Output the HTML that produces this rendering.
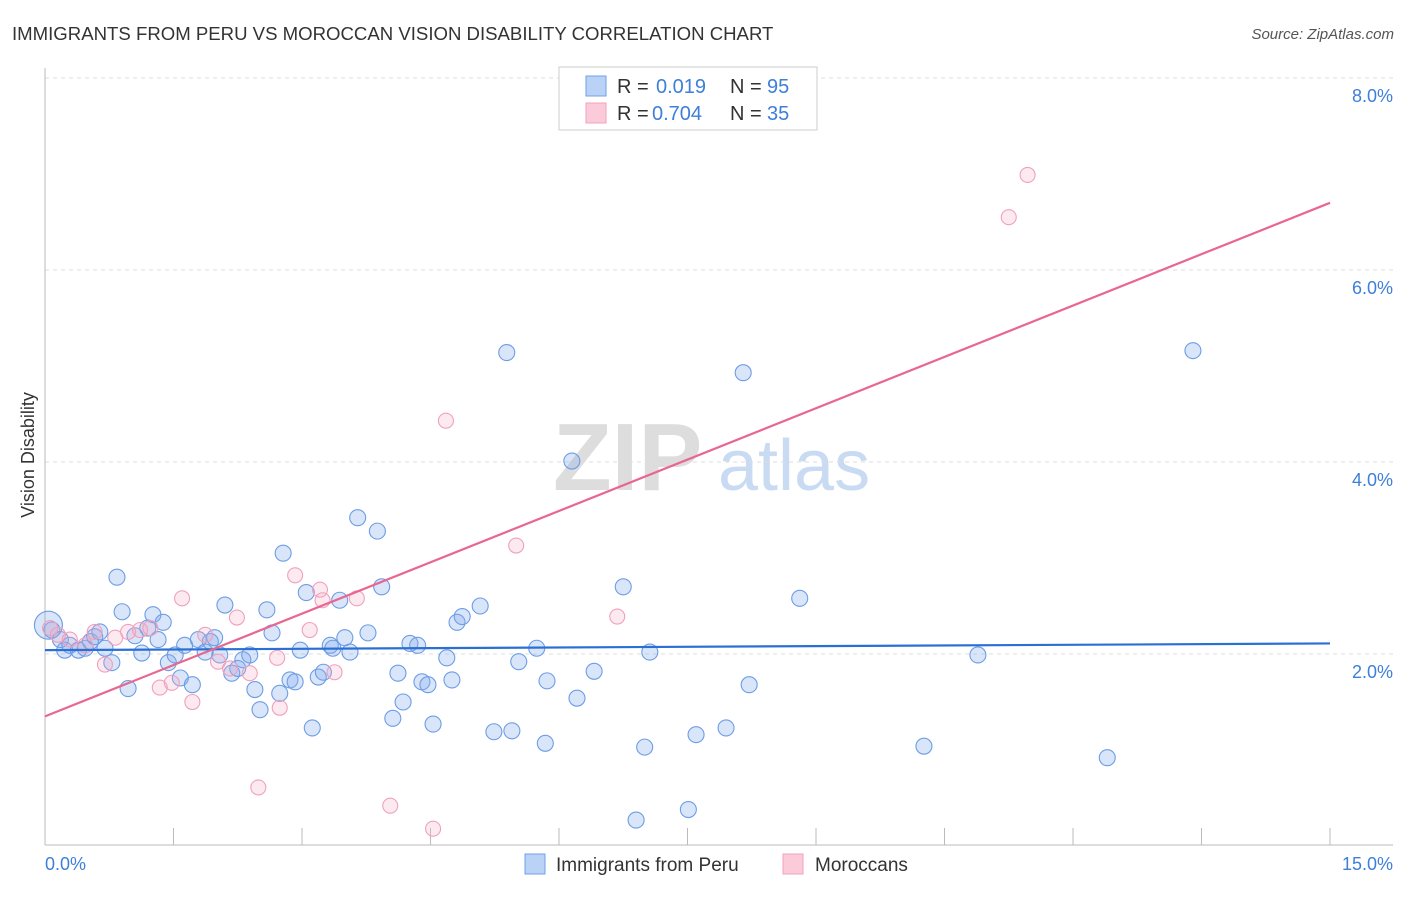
<!DOCTYPE html>
<html><head><meta charset="utf-8"><style>
body{margin:0;background:#fff;font-family:"Liberation Sans",sans-serif;}
svg text{font-family:"Liberation Sans",sans-serif;}
</style></head><body>
<svg id="chart" width="1406" height="892" xmlns="http://www.w3.org/2000/svg">
<text x="12" y="40" font-size="18.6" fill="#333">IMMIGRANTS FROM PERU VS MOROCCAN VISION DISABILITY CORRELATION CHART</text>
<text x="1394" y="39" font-size="15" fill="#555" font-style="italic" text-anchor="end">Source: ZipAtlas.com</text>
<g>
<text x="553" y="490" font-size="96" fill="#ddd" font-family="Liberation Serif" font-weight="bold">ZIP</text>
<text x="718" y="490" font-size="72" fill="#c9dbf3">atlas</text>
</g>
<g id="grid"></g>
<g id="axes"></g>
<g id="points"></g>
<g id="lines"></g>
<text transform="translate(34,455) rotate(-90)" font-size="18" fill="#333" text-anchor="middle">Vision Disability</text>
<g>
<rect x="559" y="67" width="258" height="63" fill="#fff" stroke="#ccc"/>
<rect x="586" y="76" width="20" height="20" fill="#b9d2f5" stroke="#6fa0e8"/>
<text x="617" y="93" font-size="20" fill="#333">R =</text>
<text x="656" y="93" font-size="20" fill="#3d7fd9">0.019</text>
<text x="730" y="93" font-size="20" fill="#333">N =</text>
<text x="767" y="93" font-size="20" fill="#3d7fd9">95</text>
<rect x="586" y="103" width="20" height="20" fill="#fbcbd9" stroke="#f0a0bd"/>
<text x="617" y="120" font-size="20" fill="#333">R =</text>
<text x="652" y="120" font-size="20" fill="#3d7fd9">0.704</text>
<text x="730" y="120" font-size="20" fill="#333">N =</text>
<text x="767" y="120" font-size="20" fill="#3d7fd9">35</text>
</g>
<g>
<rect x="525" y="854" width="20" height="20" fill="#b9d2f5" stroke="#6fa0e8"/>
<text x="556" y="871" font-size="19" fill="#333">Immigrants from Peru</text>
<rect x="783" y="854" width="20" height="20" fill="#fbcbd9" stroke="#f0a0bd"/>
<text x="815" y="871" font-size="19" fill="#333">Moroccans</text>
</g>
</svg>
<script>
const blueX=[0.04,0.08,0.18,0.23,0.29,0.39,0.47,0.53,0.58,0.64,0.70,0.78,0.84,0.90,0.97,1.05,1.13,1.20,1.26,1.32,1.38,1.44,1.52,1.58,1.63,1.72,1.79,1.87,1.93,1.98,2.04,2.10,2.18,2.25,2.31,2.39,2.45,2.51,2.59,2.65,2.74,2.78,2.86,2.92,2.98,3.05,3.12,3.19,3.25,3.33,3.36,3.44,3.50,3.56,3.65,3.77,3.88,3.93,4.06,4.12,4.18,4.26,4.35,4.40,4.47,4.53,4.69,4.75,4.81,4.87,5.08,5.24,5.39,5.45,5.53,5.74,5.84,5.86,6.15,6.21,6.41,6.75,6.90,7.00,7.06,7.51,7.60,7.95,8.15,8.22,8.81,10.26,10.89,12.40,13.40];
const blueY=[2.30,2.25,2.15,2.04,2.09,2.04,2.06,2.13,2.18,2.23,2.06,1.91,2.80,2.44,1.64,2.19,2.01,2.27,2.41,2.15,2.33,1.91,1.99,1.75,2.09,1.68,2.15,2.02,2.13,2.17,1.99,2.51,1.80,1.85,1.94,1.99,1.63,1.42,2.46,2.22,1.59,3.05,1.73,1.71,2.04,2.64,1.23,1.76,1.81,2.09,2.06,2.56,2.17,2.02,3.42,2.22,3.28,2.70,1.33,1.80,1.50,2.11,2.09,1.71,1.68,1.27,1.96,1.73,2.33,2.39,2.50,1.19,5.14,1.20,1.92,2.06,1.07,1.72,4.01,1.54,1.82,2.70,0.27,1.03,2.02,0.38,1.16,1.23,4.93,1.68,2.58,1.04,1.99,0.92,5.16];
const pinkX=[0.06,0.15,0.29,0.47,0.58,0.70,0.82,0.97,1.11,1.23,1.34,1.48,1.60,1.72,1.87,2.02,2.16,2.24,2.39,2.49,2.71,2.74,2.92,3.09,3.21,3.24,3.38,3.64,4.03,4.53,4.68,5.50,6.68,11.25,11.47];
const pinkY=[2.27,2.20,2.15,2.09,2.23,1.89,2.17,2.23,2.25,2.27,1.65,1.70,2.58,1.50,2.20,1.92,1.85,2.38,1.80,0.61,1.96,1.44,2.82,2.25,2.67,2.56,1.81,2.58,0.42,0.18,4.43,3.13,2.39,6.55,6.99];
const blueLine=[2.04,2.11];
const pinkLine=[1.35,6.70];
const yTicks=[2,4,6,8];
const xTicks=[0,1.5,3,4.5,6,7.5,9,10.5,12,13.5,15];
const NS="http://www.w3.org/2000/svg";
const sx=v=>45+v*(1285/15);
const sy=v=>846-v*96;
function mk(parent,tag,attrs){const e=document.createElementNS(NS,tag);for(const k in attrs)e.setAttribute(k,attrs[k]);document.getElementById(parent).appendChild(e);return e;}
yTicks.forEach(t=>{
 const l=mk('grid','line',{x1:45,x2:1393,y1:sy(t),y2:sy(t),stroke:'#ddd','stroke-dasharray':'4,4'});
 
 
 const tx=mk('grid','text',{x:1393,y:sy(t)+24,'font-size':18,fill:'#3d7fd9','text-anchor':'end'});
 tx.textContent=t.toFixed(1)+'%';
 
 
});
const ax=mk('axes','line',{x1:45,x2:1393,y1:845,y2:845,stroke:'#bbb'});


const ay=mk('axes','line',{x1:45,x2:45,y1:68,y2:845,stroke:'#bbb'});


xTicks.forEach(t=>{
 const l=mk('axes','line',{x1:sx(t),x2:sx(t),y1:828,y2:845,stroke:'#bbb'});
 
 
});
const xl0=mk('axes','text',{x:45,y:870,'font-size':18,fill:'#3d7fd9'});
xl0.textContent='0.0%';


const xl1=mk('axes','text',{x:1393,y:870,'font-size':18,fill:'#3d7fd9','text-anchor':'end'});
xl1.textContent='15.0%';


blueX.forEach((x,i)=>{
 const c=mk('points','circle',{cx:sx(x),cy:sy(blueY[i]),r:i===0?14:8,fill:'rgba(130,170,235,0.3)',stroke:'#6d9de6','stroke-width':1.1});
 
 
});
pinkX.forEach((x,i)=>{
 const c=mk('points','circle',{cx:sx(x),cy:sy(pinkY[i]),r:7.5,fill:'rgba(245,170,195,0.25)',stroke:'#f0a0bd','stroke-width':1.1});
 
 
});
const bl=mk('lines','line',{x1:sx(0),x2:sx(15),y1:sy(blueLine[0]),y2:sy(blueLine[1]),stroke:'#2a6fd6','stroke-width':2.2});


const pl=mk('lines','line',{x1:sx(0),x2:sx(15),y1:sy(pinkLine[0]),y2:sy(pinkLine[1]),stroke:'#e8668f','stroke-width':2.2});


</script>
</body></html>
